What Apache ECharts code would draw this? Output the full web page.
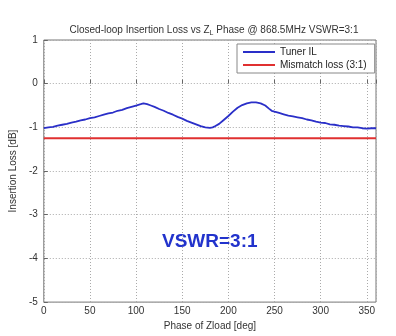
<!DOCTYPE html>
<html><head><meta charset="utf-8">
<script src="https://cdn.jsdelivr.net/npm/echarts@6/dist/echarts.min.js"></script>
<style>html,body{margin:0;padding:0;background:#fff}#c{width:396px;height:336px}</style>
</head><body><div id="c"></div>
<script>
const phaseDeg = [0,5,10,15,20,25,30,35,40,45,50,55,60,65,70,75,80,85,90,95,100,105,108,112,116,120,125,130,135,140,145,150,155,160,165,170,175,180,183,186,190,195,200,205,210,215,220,225,230,235,240,244,247,250,255,260,265,270,275,280,285,290,295,300,305,310,315,320,325,330,335,340,345,350,355,360];
const tunerIL = [-1.02,-1.00,-0.99,-0.96,-0.94,-0.92,-0.89,-0.87,-0.84,-0.82,-0.79,-0.77,-0.74,-0.71,-0.68,-0.66,-0.62,-0.60,-0.56,-0.53,-0.50,-0.47,-0.45,-0.47,-0.50,-0.53,-0.58,-0.62,-0.67,-0.71,-0.76,-0.80,-0.85,-0.89,-0.93,-0.97,-1.00,-1.01,-1.00,-0.97,-0.92,-0.83,-0.74,-0.64,-0.55,-0.49,-0.45,-0.43,-0.43,-0.45,-0.50,-0.57,-0.62,-0.64,-0.67,-0.70,-0.73,-0.75,-0.77,-0.79,-0.82,-0.84,-0.87,-0.89,-0.90,-0.93,-0.94,-0.96,-0.97,-0.98,-1.00,-1.00,-1.02,-1.03,-1.02,-1.02];
const mismatchLoss = -1.25;
const xTicks = [0,50,100,150,200,250,300,350];
const yTicks = [1,0,-1,-2,-3,-4,-5];
const titleText = ['Closed-loop Insertion Loss vs Z','L',' Phase @ 868.5MHz VSWR=3:1'];
const seriesNames = ['Tuner IL','Mismatch loss (3:1)'];

const chart = echarts.init(document.getElementById('c'));
const font = 'Liberation Sans, Arial, sans-serif';
chart.setOption({
  animation:false,
  title:{
    text:'{a|'+titleText[0]+'}{s|'+titleText[1]+'}{a|'+titleText[2]+'}',
    left:209, top:18, textAlign:'center',
    textStyle:{fontWeight:'normal',rich:{a:{fontSize:10,fontWeight:'normal',color:'#333',fontFamily:font},s:{fontSize:7,fontWeight:'normal',color:'#333',fontFamily:font,padding:[7,0,0,0]}}}
  },
  grid:{left:41,right:20,top:40,bottom:32,show:true,borderColor:'#777',borderWidth:1,backgroundColor:'#fff'},
  legend:{
    orient:'vertical', left:237, top:44, width:120,
    backgroundColor:'#fff', borderColor:'#888', borderWidth:1, borderRadius:0,
    padding:[3,8,3,6], itemGap:3, itemWidth:32, itemHeight:2,
    textStyle:{fontSize:10,color:'#222',fontFamily:font},
    data:[{name:seriesNames[0],icon:'rect'},{name:seriesNames[1],icon:'rect'}]
  },
  xAxis:{
    type:'value', min:0, max:360, interval:50,
    name:'Phase of Zload [deg]', nameLocation:'middle', nameGap:14,
    nameTextStyle:{fontSize:10,color:'#333',fontFamily:font},
    axisLine:{show:false}, axisTick:{show:true,inside:true,length:4,lineStyle:{color:'#666'}},
    axisLabel:{fontSize:10,color:'#333',fontFamily:font,margin:4,
      formatter:v=>xTicks.includes(v)?String(v):''},
    splitLine:{show:true,lineStyle:{color:'#aaa',type:[1,2],width:1}}
  },
  yAxis:{
    type:'value', min:-5, max:1, interval:1,
    name:'Insertion Loss [dB]', nameLocation:'middle', nameGap:24,
    nameTextStyle:{fontSize:10,color:'#333',fontFamily:font},
    axisLine:{show:false}, axisTick:{show:true,inside:true,length:4,lineStyle:{color:'#666'}},
    axisLabel:{fontSize:10,color:'#333',fontFamily:font,margin:6,
      formatter:v=>yTicks.includes(v)?String(v):''},
    splitLine:{show:true,lineStyle:{color:'#aaa',type:[1,2],width:1}}
  },
  series:[
    {name:seriesNames[0],type:'line',data:phaseDeg.map((p,i)=>[p,tunerIL[i]]),
     showSymbol:false,lineStyle:{color:'#2a2fc8',width:1.8},itemStyle:{color:'#2a2fc8'}},
    {name:seriesNames[1],type:'line',data:[[0,mismatchLoss],[360,mismatchLoss]],
     showSymbol:false,lineStyle:{color:'#e03030',width:2},itemStyle:{color:'#e03030'}}
  ],
  graphic:[{type:'text',left:162,top:232,style:{text:'VSWR=3:1',fontSize:19,fontWeight:'bold',fill:'#2233cc',fontFamily:font}}]
});
</script></body></html>
